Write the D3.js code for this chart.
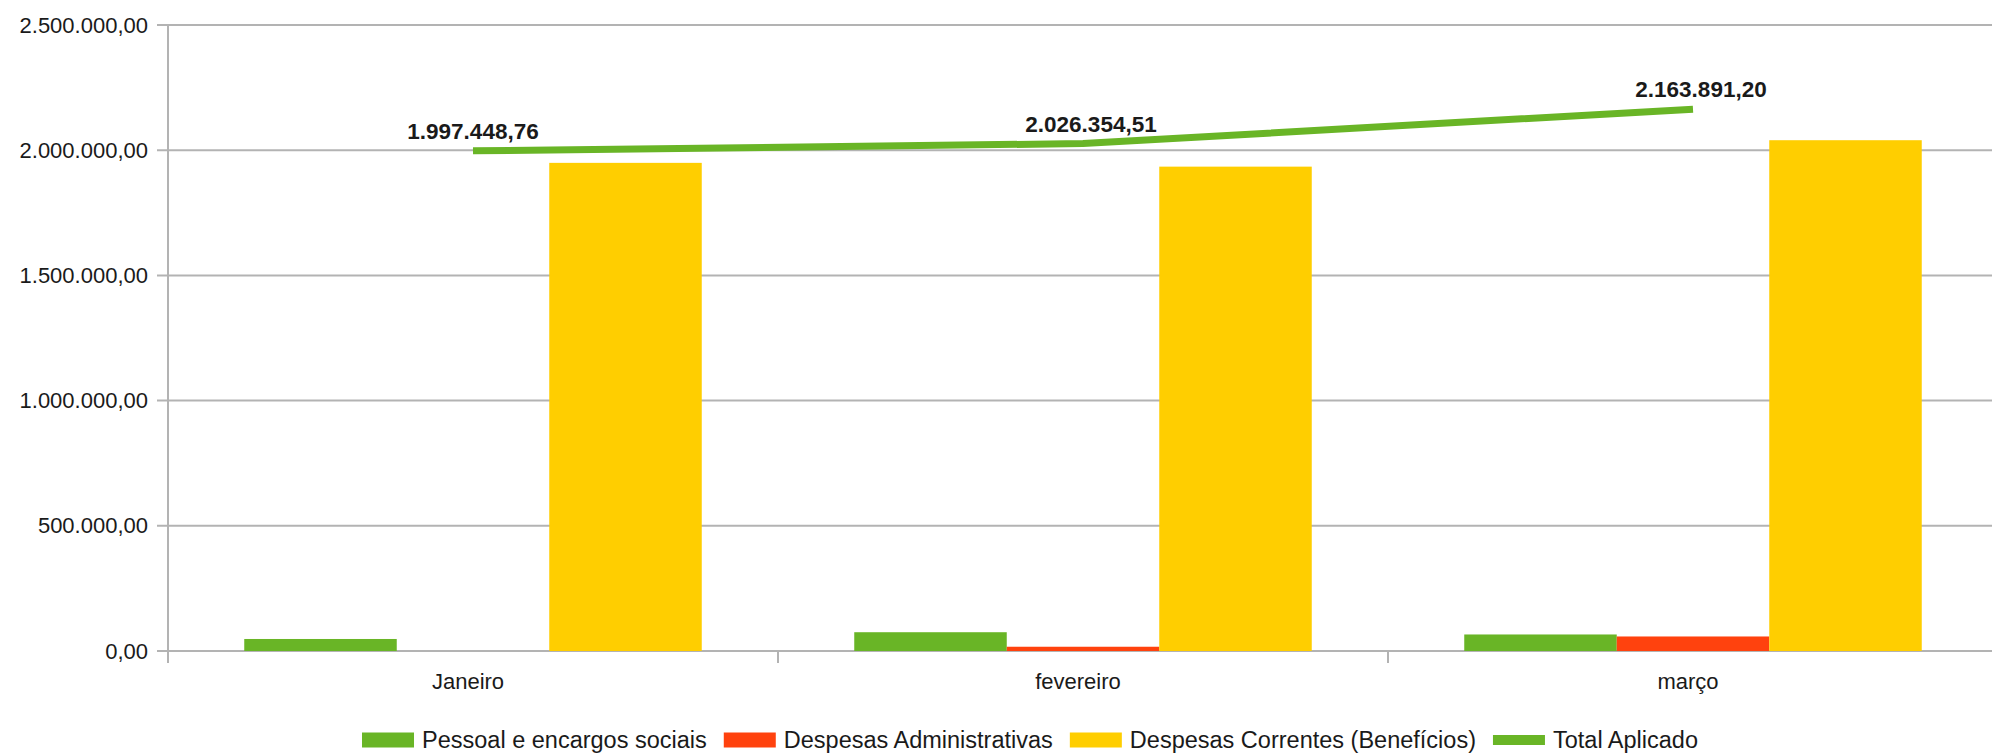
<!DOCTYPE html>
<html>
<head>
<meta charset="utf-8">
<script src="https://cdn.jsdelivr.net/npm/d3@7"></script>
<style>
  body { margin: 0; background: #fff; }
  svg { display: block; font-family: "Liberation Sans", Arial, sans-serif; }
</style>
</head>
<body>
<div class="chart"></div>
<script>
const months = ["Janeiro", "fevereiro", "março"];
const seriesNames = ["Pessoal e encargos sociais", "Despesas Administrativas", "Despesas Correntes (Benefícios)"];
const pessoal = [48000, 75000, 66000];
const administrativas = [0, 17000, 58000];
const correntes = [1949448.76, 1934354.51, 2039891.20];
const totalAplicado = [1997448.76, 2026354.51, 2163891.20];
const yTicks = [0, 500000, 1000000, 1500000, 2000000, 2500000];
const colors = ["#69b526", "#ff420e", "#ffce00"];
const lineColor = "#69b526";

const width = 1992, height = 754;
const margin = { top: 25, left: 168, bottom: 103 };
const plotRight = 1998;

const fmt = d3.formatLocale({ decimal: ",", thousands: ".", grouping: [3], currency: ["R$", ""] }).format(",.2f");

const svg = d3.select(".chart").append("svg")
  .attr("width", width)
  .attr("height", height);

const x0 = d3.scaleBand().domain(months).range([margin.left, plotRight]).padding(0);
const x1 = d3.scaleBand().domain(seriesNames).range([0, x0.bandwidth()]).paddingInner(0).paddingOuter(0.5);
const y = d3.scaleLinear().domain([0, 2500000]).range([height - margin.bottom, margin.top]);

const table = months.map((m, i) => ({
  month: m,
  values: [pessoal[i], administrativas[i], correntes[i]]
}));

// gridlines
svg.append("g")
  .selectAll("line")
  .data(yTicks)
  .join("line")
  .attr("x1", margin.left - 11)
  .attr("x2", width)
  .attr("y1", d => y(d))
  .attr("y2", d => y(d))
  .attr("stroke", "#b3b3b3")
  .attr("stroke-width", 2);

// y axis
const yAxis = svg.append("g")
  .attr("transform", `translate(${margin.left},0)`)
  .call(d3.axisLeft(y).tickValues(yTicks).tickFormat(fmt).tickSize(0).tickPadding(20));
yAxis.select(".domain").remove();
yAxis.selectAll("text")
  .attr("font-size", 22)
  .attr("fill", "#1a1a1a")
  .attr("font-family", "Liberation Sans, Arial, sans-serif");

svg.append("line")
  .attr("x1", margin.left).attr("x2", margin.left)
  .attr("y1", margin.top).attr("y2", y(0) + 12)
  .attr("stroke", "#b3b3b3")
  .attr("stroke-width", 2);

// x axis
const xAxis = svg.append("g")
  .attr("transform", `translate(0,${y(0)})`)
  .call(d3.axisBottom(x0).tickSize(0).tickPadding(22));
xAxis.select(".domain").remove();
xAxis.selectAll("text")
  .attr("font-size", 22)
  .attr("dx", -5)
  .attr("fill", "#1a1a1a")
  .attr("font-family", "Liberation Sans, Arial, sans-serif");

svg.append("g")
  .selectAll("line")
  .data(months.slice(1))
  .join("line")
  .attr("x1", d => x0(d)).attr("x2", d => x0(d))
  .attr("y1", y(0)).attr("y2", y(0) + 12)
  .attr("stroke", "#b3b3b3")
  .attr("stroke-width", 2);

// bars
svg.append("g")
  .selectAll("g")
  .data(table)
  .join("g")
  .attr("transform", d => `translate(${x0(d.month)},0)`)
  .selectAll("rect")
  .data(d => d.values.map((v, i) => ({ key: seriesNames[i], value: v, i })))
  .join("rect")
  .attr("x", d => x1(d.key))
  .attr("width", x1.bandwidth())
  .attr("y", d => y(d.value))
  .attr("height", d => y(0) - y(d.value))
  .attr("fill", d => colors[d.i]);

// total line
const line = d3.line()
  .x((d, i) => x0(months[i]) + x0.bandwidth() / 2)
  .y(d => y(d));

svg.append("path")
  .datum(totalAplicado)
  .attr("d", line)
  .attr("fill", "none")
  .attr("stroke", lineColor)
  .attr("stroke-width", 7);

svg.append("g")
  .selectAll("text")
  .data(totalAplicado)
  .join("text")
  .attr("x", (d, i) => x0(months[i]) + x0.bandwidth() / 2 + (i ? 8 : 0))
  .attr("y", d => y(d) - 12)
  .attr("text-anchor", "middle")
  .attr("font-size", 22.5)
  .attr("font-weight", "bold")
  .attr("fill", "#1a1a1a")
  .text(d => fmt(d));

// legend
const legendItems = seriesNames.map((n, i) => ({ name: n, color: colors[i], h: 15 }))
  .concat([{ name: "Total Aplicado", color: lineColor, h: 10 }]);

const legend = svg.append("g");
let lx = 0;
legendItems.forEach(item => {
  const g = legend.append("g").attr("transform", `translate(${lx},0)`);
  g.append("rect")
    .attr("x", 0)
    .attr("y", -item.h / 2)
    .attr("width", 52)
    .attr("height", item.h)
    .attr("fill", item.color);
  const t = g.append("text")
    .attr("x", 60)
    .attr("y", 0)
    .attr("dy", "0.35em")
    .attr("font-size", 23.5)
    .attr("fill", "#1a1a1a")
    .text(item.name);
  lx += 60 + t.node().getComputedTextLength() + 17;
});
const legendWidth = lx - 17;
legend.attr("transform", `translate(${1030 - legendWidth / 2},740)`);
</script>
</body>
</html>
